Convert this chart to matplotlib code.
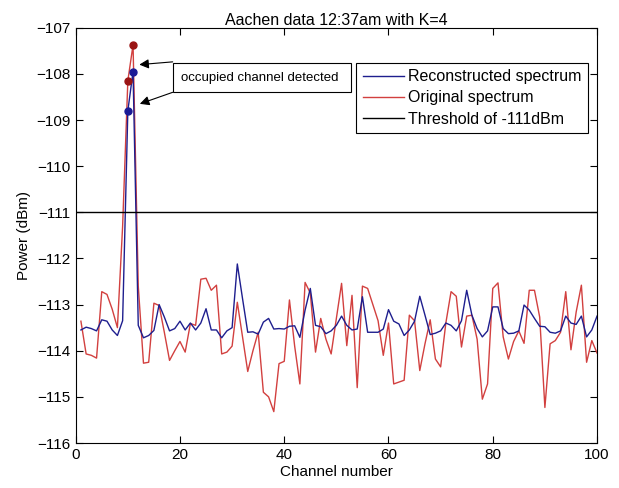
import matplotlib
matplotlib.use("Agg")
import matplotlib.pyplot as plt
from matplotlib.patches import Rectangle

plt.rcParams['font.family'] = ['Liberation Sans', 'DejaVu Sans']

channels = list(range(1, 101))

original = [
    -113.36, -114.07, -114.10, -114.16, -112.72, -112.78, -113.10, -113.50, -111.30, -108.15,
    -107.37, -112.60, -114.27, -114.25, -112.97, -113.02, -113.60, -114.21, -114.00, -113.80,
    -114.03, -113.41, -113.45, -112.45, -112.43, -112.69, -112.58, -114.07, -114.03, -113.90,
    -112.95, -113.70, -114.45, -114.00, -113.60, -114.90, -115.00, -115.32, -114.28, -114.23,
    -112.90, -113.90, -114.72, -112.52, -112.75, -114.03, -113.30, -113.75, -114.07, -113.30,
    -112.54, -113.89, -112.80, -114.80, -112.60, -112.65, -113.00, -113.35, -114.10, -113.40,
    -114.72, -114.68, -114.64, -113.23, -113.35, -114.43, -113.85, -113.33, -114.18, -114.35,
    -113.40, -112.72, -112.82, -113.92, -113.25, -113.23, -113.75, -115.05, -114.72, -112.65,
    -112.53, -113.70, -114.18, -113.80, -113.57, -113.84, -112.69, -112.69, -113.27, -115.23,
    -113.85, -113.78, -113.60, -112.72, -113.98, -113.16, -112.58, -114.25, -113.78, -114.05,
]

reconstructed = [
    -113.55, -113.49, -113.52, -113.57, -113.33, -113.36, -113.55, -113.67, -113.35, -108.80,
    -107.95, -113.45, -113.72, -113.67, -113.56, -113.00, -113.27, -113.57, -113.52, -113.36,
    -113.55, -113.40, -113.55, -113.40, -113.09, -113.55, -113.55, -113.72, -113.57, -113.50,
    -112.12, -112.87, -113.60, -113.59, -113.64, -113.38, -113.30, -113.53, -113.52, -113.53,
    -113.47, -113.46, -113.71, -113.12, -112.65, -113.45, -113.48, -113.63, -113.57, -113.45,
    -113.25, -113.45, -113.55, -113.53, -112.83, -113.60, -113.60, -113.60, -113.53, -113.11,
    -113.36, -113.42, -113.67, -113.55, -113.36, -112.82, -113.23, -113.65, -113.62, -113.57,
    -113.40, -113.45, -113.57, -113.35, -112.69, -113.23, -113.52, -113.70, -113.57, -113.05,
    -113.05, -113.52, -113.63, -113.62, -113.57, -113.01, -113.12, -113.30, -113.47, -113.48,
    -113.60, -113.62, -113.57, -113.25, -113.40, -113.43, -113.25, -113.70, -113.55, -113.25,
]

detected_channels = [10, 11]
threshold = -111

title = "Aachen data 12:37am with K=4"
xlabel = "Channel number"
ylabel = "Power (dBm)"
xticks = [0, 20, 40, 60, 80, 100]
yticks = [-116, -115, -114, -113, -112, -111, -110, -109, -108, -107]

fig = plt.figure(figsize=(6.19, 4.88), dpi=100)
ax = fig.add_axes([0.1223, 0.0922, 0.8422, 0.851])

red_c = '#d2403f'
blue_c = '#1e1e8e'

l_orig, = ax.plot(channels, original, color=red_c, lw=1.0, label='Original spectrum')
l_rec, = ax.plot(channels, reconstructed, color=blue_c, lw=1.0, label='Reconstructed spectrum')
l_thr = ax.axhline(threshold, color='black', lw=1.0, label='Threshold of -111dBm')

idx = [channels.index(c) for c in detected_channels]
ax.plot([channels[i] for i in idx], [original[i] for i in idx], 'o',
        color='#9a1414', ms=5, zorder=5)
ax.plot([channels[i] for i in idx], [reconstructed[i] for i in idx], 'o',
        color='#1a1a96', ms=5, zorder=5)

ax.set_xlim(0, 100)
ax.set_ylim(-116, -107)
ax.set_xticks(xticks)
ax.set_yticks(yticks)
ax.tick_params(direction='in', top=True, right=True, labelsize=11, length=5)
ax.set_title(title, fontsize=11.5, pad=2)
ax.set_xlabel(xlabel, fontsize=11, labelpad=2)
ax.set_ylabel(ylabel, fontsize=11, labelpad=4)

leg = ax.legend(handles=[l_rec, l_orig, l_thr], loc='upper right',
                bbox_to_anchor=(0.983, 0.915), fontsize=11.5, frameon=True,
                fancybox=False, framealpha=1, edgecolor='black',
                handlelength=2.6, borderpad=0.4, labelspacing=0.38,
                handletextpad=0.25, borderaxespad=0)
leg.get_frame().set_linewidth(0.8)

# annotation box with two arrows
box_x0, box_x1 = 18.6, 52.8
box_y0, box_y1 = -108.4, -107.77
ax.add_patch(Rectangle((box_x0, box_y0), box_x1 - box_x0, box_y1 - box_y0,
                       fc='white', ec='black', lw=0.8, zorder=6))
ax.text((box_x0 + box_x1) / 2 - 0.4, (box_y0 + box_y1) / 2, "occupied channel detected",
        fontsize=9.5, ha='center', va='center', zorder=7)
ax.annotate("", xy=(12.2, -107.8), xytext=(box_x0, box_y1 + 0.03),
            arrowprops=dict(arrowstyle='-|>', color='black', lw=0.8,
                            mutation_scale=14, shrinkA=0, shrinkB=0))
ax.annotate("", xy=(12.3, -108.65), xytext=(box_x0, box_y0),
            arrowprops=dict(arrowstyle='-|>', color='black', lw=0.8,
                            mutation_scale=14, shrinkA=0, shrinkB=0))

fig.savefig("out.png", dpi=100)
